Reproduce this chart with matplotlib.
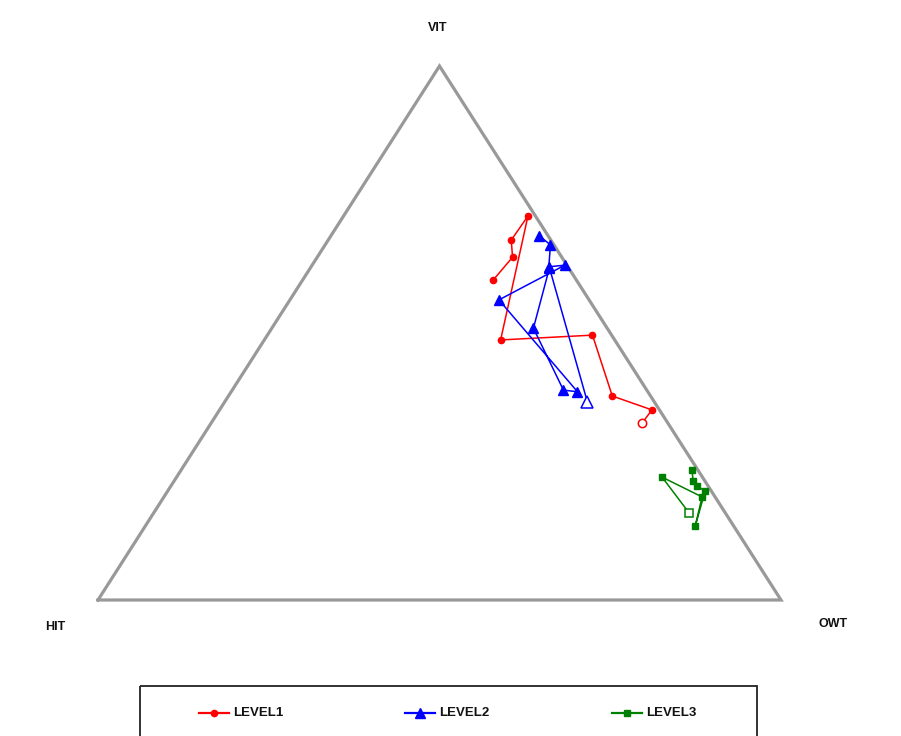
import matplotlib
matplotlib.use("Agg")
import matplotlib.pyplot as plt
from matplotlib.patches import Rectangle
import numpy as np

plt.rcParams['font.family'] = ['Liberation Sans', 'DejaVu Sans']

# Ternary compositions in percent: (VIT, HIT, OWT); the last point of each level is the open marker
level1_vit = [59.9, 64.2, 67.4, 71.9, 48.7, 49.6, 38.2, 35.6, 33.1]
level1_hit = [12.2, 7.2, 5.8, 1.1, 16.7, 2.8, 5.6, 1.1, 3.8]
level1_owt = [27.9, 28.6, 26.8, 27.0, 34.6, 47.6, 56.2, 63.3, 63.1]

level2_vit = [68.2, 66.5, 62.4, 62.7, 56.2, 39.0, 39.3, 50.9, 62.2, 37.1]
level2_hit = [1.3, 0.5, 2.8, 0.3, 13.2, 10.3, 12.2, 10.8, 2.8, 9.8]
level2_owt = [30.5, 33.0, 34.8, 37.0, 30.6, 50.7, 48.5, 38.3, 35.0, 53.1]

level3_vit = [24.3, 22.3, 21.3, 20.4, 13.9, 19.3, 23.0, 16.3]
level3_hit = [0.9, 1.7, 1.6, 0.9, 5.6, 1.9, 5.9, 5.3]
level3_owt = [74.8, 76.0, 77.1, 78.7, 80.5, 78.8, 71.1, 78.4]

corner_labels = ["VIT", "HIT", "OWT"]
level_names = ["LEVEL1", "LEVEL2", "LEVEL3"]
level_colors = ["#ff0000", "#0000ff", "#008000"]
level_markers = ["o", "^", "s"]
marker_sizes = [4.5, 6.5, 5]
open_sizes = [6, 9, 6]


def to_xy(vit, hit, owt):
    v = np.asarray(vit, float)
    h = np.asarray(hit, float)
    o = np.asarray(owt, float)
    tot = v + h + o
    v, o = v / tot, o / tot
    return o + 0.5 * v, v


W, H = 901, 736
fig = plt.figure(figsize=(W / 100, H / 100), dpi=100)
fig.patch.set_facecolor("white")

# Triangle: base-left (98,600), base-right (781,600), apex (438,66) in pixels
ax = fig.add_axes([98 / W, (H - 600) / H, 683 / W, 534 / H])
ax.set_xlim(0, 1)
ax.set_ylim(0, 1)
ax.axis("off")

ax.plot([0, 1, 0.5, 0], [0, 0, 1, 0], color="#999999", lw=2.3,
        solid_joinstyle="miter", clip_on=False, zorder=1)

ax.text(0.497, 1.071, corner_labels[0], ha="center", va="center", fontsize=9,
        fontweight="bold", color="#111111")
ax.text(-0.063, -0.051, corner_labels[1], ha="center", va="center", fontsize=9,
        fontweight="bold", color="#111111")
ax.text(1.076, -0.045, corner_labels[2], ha="center", va="center", fontsize=9,
        fontweight="bold", color="#111111")

levels = [(level1_vit, level1_hit, level1_owt),
          (level2_vit, level2_hit, level2_owt),
          (level3_vit, level3_hit, level3_owt)]

for (vit, hit, owt), col, mk, ms, oms in zip(levels, level_colors, level_markers,
                                             marker_sizes, open_sizes):
    x, y = to_xy(vit, hit, owt)
    ax.plot(x, y, color=col, lw=1.1, zorder=3, clip_on=False)
    ax.plot(x[:-1], y[:-1], ls="none", marker=mk, ms=ms, color=col,
            mec=col, mfc=col, zorder=4, clip_on=False)
    ax.plot(x[-1:], y[-1:], ls="none", marker=mk, ms=oms, mfc="white",
            mec=col, mew=1.1, zorder=4, clip_on=False)

# Legend panel in pixel coordinates
lax = fig.add_axes([0, 0, 1, 1])
lax.set_xlim(0, W)
lax.set_ylim(H, 0)
lax.axis("off")
lax.add_patch(Rectangle((140, 686), 617, 70, fill=False, edgecolor="#222222",
                        lw=1.3, clip_on=False))
entry_x = [199, 405, 612]
for ex, name, col, mk, ms in zip(entry_x, level_names, level_colors,
                                 level_markers, marker_sizes):
    lax.plot([ex, ex + 30], [713, 713], color=col, lw=1.6)
    lax.plot([ex + 15], [713], ls="none", marker=mk, ms=ms, color=col)
    lax.text(ex + 34, 713, name, ha="left", va="center", fontsize=9.5,
             fontweight="bold", color="#111111")

fig.savefig("out.png", dpi=100, facecolor="white")
